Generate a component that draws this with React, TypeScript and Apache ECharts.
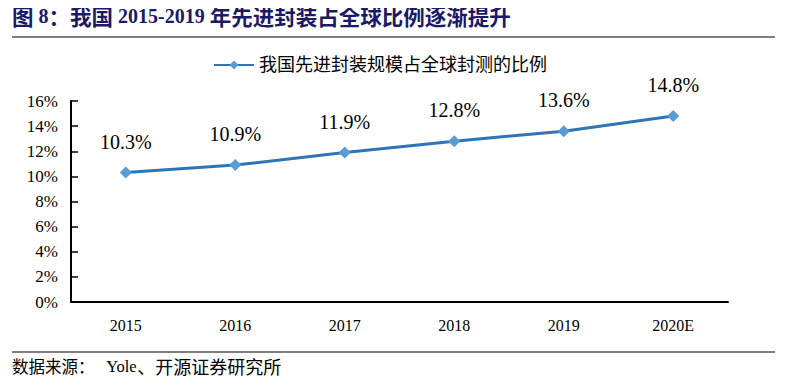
import React, { useEffect, useRef } from "react";
import * as echarts from "echarts";

const categories = ["2015", "2016", "2017", "2018", "2019", "2020E"];
const shareValues = [10.3, 10.9, 11.9, 12.8, 13.6, 14.8];
const seriesName = "我国先进封装规模占全球封测的比例";
const titleParts = ["图", " 8", "：我国", " 2015-2019 ", "年先进封装占全球比例逐渐提升"];
const sourceParts = ["数据来源：", "   Yole", "、开源证券研究所"];

const FONT = "Liberation Serif, Noto Sans CJK SC, serif";
const NUM_FONT = "Liberation Serif";
const CJK_FONT = "Noto Sans CJK SC";

export default function App() {
  const ref = useRef<HTMLDivElement>(null);
  useEffect(() => {
    if (!ref.current) return;
    const chart = echarts.init(ref.current, null, { renderer: "svg" });
    const titleColor = "#1a1a66";
    chart.setOption({
      animation: false,
      backgroundColor: "#fff",
      textStyle: { fontFamily: FONT },
      grid: { left: 71, right: 84, top: 101, bottom: 85 },
      legend: {
        top: 56,
        left: 213,
        padding: 0,
        itemWidth: 40,
        itemHeight: 11,
        itemGap: 10,
        textStyle: { fontSize: 18, color: "#000", fontFamily: FONT },
        data: [{ name: seriesName }],
      },
      xAxis: {
        type: "category",
        data: categories,
        axisLine: { lineStyle: { color: "#000", width: 2 } },
        axisTick: { inside: true, length: 7, lineStyle: { color: "#000", width: 1.5 } },
        axisLabel: { color: "#000", fontSize: 16, margin: 15, fontFamily: NUM_FONT },
      },
      yAxis: {
        type: "value",
        min: 0,
        max: 16,
        interval: 2,
        axisLine: { show: true, lineStyle: { color: "#000", width: 2 } },
        axisTick: { show: true, inside: true, length: 7, lineStyle: { color: "#000", width: 1.5 } },
        splitLine: { show: false },
        axisLabel: { color: "#000", fontSize: 17, margin: 13, formatter: "{value}%", fontFamily: NUM_FONT },
      },
      series: [
        {
          name: seriesName,
          type: "line",
          data: shareValues,
          symbol: "diamond",
          symbolSize: 12,
          lineStyle: { color: "#2E75B6", width: 3 },
          itemStyle: { color: "#5B9BD5" },
          label: {
            show: true,
            position: "top",
            distance: 15,
            formatter: (p: any) => p.value.toFixed(1) + "%",
            fontSize: 20,
            color: "#000",
            fontFamily: NUM_FONT,
          },
        },
      ],
      graphic: [
        {
          type: "text",
          left: 12,
          top: 5,
          style: {
            text: `{c|${titleParts[0]}}{n|${titleParts[1]}}{c|${titleParts[2]}}{n|${titleParts[3]}}{c|${titleParts[4]}}`,
            rich: {
              c: { fontSize: 21.5, fontWeight: "bold", fill: titleColor, fontFamily: CJK_FONT },
              n: { fontSize: 20, fontWeight: "bold", fill: titleColor, fontFamily: NUM_FONT },
            },
          },
        },
        {
          type: "line",
          shape: { x1: 12, y1: 37, x2: 775, y2: 37 },
          style: { stroke: "#000", lineWidth: 1.2 },
        },
        {
          type: "line",
          shape: { x1: 12, y1: 352, x2: 775, y2: 352 },
          style: { stroke: "#000", lineWidth: 1 },
        },
        {
          type: "text",
          left: 12,
          top: 357,
          style: {
            text: `{a|${sourceParts[0]}}{n|${sourceParts[1]}}{b|${sourceParts[2]}}`,
            rich: {
              a: { fontSize: 16.5, fill: "#000", fontFamily: CJK_FONT },
              n: { fontSize: 16.5, fill: "#000", fontFamily: NUM_FONT },
              b: { fontSize: 18, fill: "#000", fontFamily: CJK_FONT },
            },
          },
        },
      ],
    });
    return () => chart.dispose();
  }, []);
  return <div ref={ref} style={{ width: 812, height: 387, margin: -8 }} />;
}
